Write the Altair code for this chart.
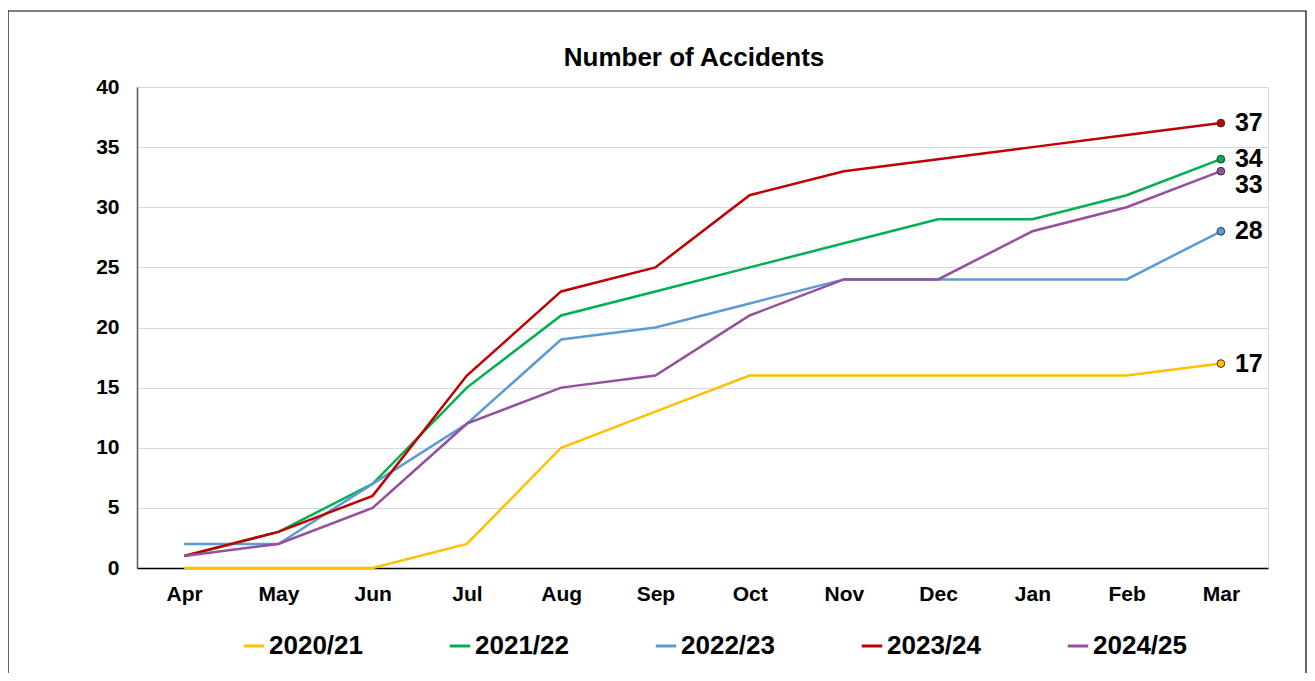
import altair as alt
import pandas as pd

months = ["Apr", "May", "Jun", "Jul", "Aug", "Sep", "Oct", "Nov", "Dec", "Jan", "Feb", "Mar"]
series_names = ["2020/21", "2021/22", "2022/23", "2023/24", "2024/25"]
colors = ["#FFC000", "#00B050", "#5B9BD5", "#C00000", "#954F9F"]

s2020 = [0, 0, 0, 2, 10, 13, 16, 16, 16, 16, 16, 17]
s2021 = [1, 3, 7, 15, 21, 23, 25, 27, 29, 29, 31, 34]
s2022 = [2, 2, 7, 12, 19, 20, 22, 24, 24, 24, 24, 28]
s2023 = [1, 3, 6, 16, 23, 25, 31, 33, 34, 35, 36, 37]
s2024 = [1, 2, 5, 12, 15, 16, 21, 24, 24, 28, 30, 33]

chart_title = "Number of Accidents"

values = [s2020, s2021, s2022, s2023, s2024]
rows = []
for name, vals in zip(series_names, values):
    for m, v in zip(months, vals):
        rows.append({"Month": m, "Series": name, "Value": v})
df = pd.DataFrame(rows)
last = df[df["Month"] == "Mar"]

FONT = "Liberation Sans"
x_enc = alt.X("Month:N", sort=months, scale=alt.Scale(type="point", padding=0.5),
              axis=alt.Axis(title=None, labelFont=FONT, labelFontSize=21, labelFontWeight="bold",
                            labelColor="#000", labelPadding=15, ticks=False, domainColor="#000",
                            domainWidth=1.5, grid=False, labelAngle=0))
y_enc = alt.Y("Value:Q", scale=alt.Scale(domain=[0, 40], nice=False),
              axis=alt.Axis(title=None, values=list(range(0, 41, 5)), labelFont=FONT,
                            labelFontSize=21, labelFontWeight="bold", labelColor="#000",
                            labelPadding=18, ticks=False, domainColor="#595959", domainWidth=1.5,
                            gridColor="#d9d9d9", gridWidth=1))

color_scale = alt.Scale(domain=series_names, range=colors)

lines = alt.Chart(df).mark_line(strokeWidth=2.5).encode(
    x=x_enc, y=y_enc,
    color=alt.Color("Series:N", scale=color_scale, sort=series_names,
                    legend=alt.Legend(title=None, orient="none", direction="horizontal",
                                      legendX=104, legendY=546, symbolType="stroke",
                                      symbolSize=420, symbolStrokeWidth=3,
                                      labelFont=FONT, labelFontSize=26, labelFontWeight="bold",
                                      labelColor="#000", columnPadding=80, labelOffset=2,
                                      labelLimit=300)),
)

points = alt.Chart(last).mark_point(filled=True, size=60, stroke="#333", strokeWidth=1, opacity=1).encode(
    x=alt.X("Month:N", sort=months), y="Value:Q",
    fill=alt.Fill("Series:N", scale=color_scale, legend=None),
)

labels = alt.Chart(last).transform_filter(alt.datum.Series != "2024/25").mark_text(
    align="left", baseline="middle", dx=14, font=FONT, fontSize=25, fontWeight="bold", color="#000"
).encode(x=alt.X("Month:N", sort=months), y="Value:Q", text="Value:Q")

label33 = alt.Chart(last).transform_filter(alt.datum.Series == "2024/25").mark_text(
    align="left", baseline="middle", dx=14, dy=14, font=FONT, fontSize=25, fontWeight="bold", color="#000"
).encode(x=alt.X("Month:N", sort=months), y="Value:Q", text="Value:Q")

title = alt.Chart(pd.DataFrame({"t": [chart_title]})).mark_text(
    align="center", baseline="middle", font=FONT, fontSize=26, fontWeight="bold", color="#000"
).encode(x=alt.value(557), y=alt.value(-29), text="t:N")

border = alt.Chart(pd.DataFrame({"a": [0]})).mark_rect(
    fill=None, stroke="#000", strokeWidth=1.2, clip=False
).encode(x=alt.value(-129), x2=alt.value(1169), y=alt.value(-76), y2=alt.value(700))

chart = alt.layer(border, lines, points, labels, label33, title).properties(
    width=1131, height=481,
    autosize=alt.AutoSizeParams(type="none"),
    padding={"left": 129, "top": 79, "right": 39, "bottom": 105},
).configure_view(stroke=None).configure(background="white")

chart.save("out.html", embed_options={"renderer": "svg", "actions": False})
